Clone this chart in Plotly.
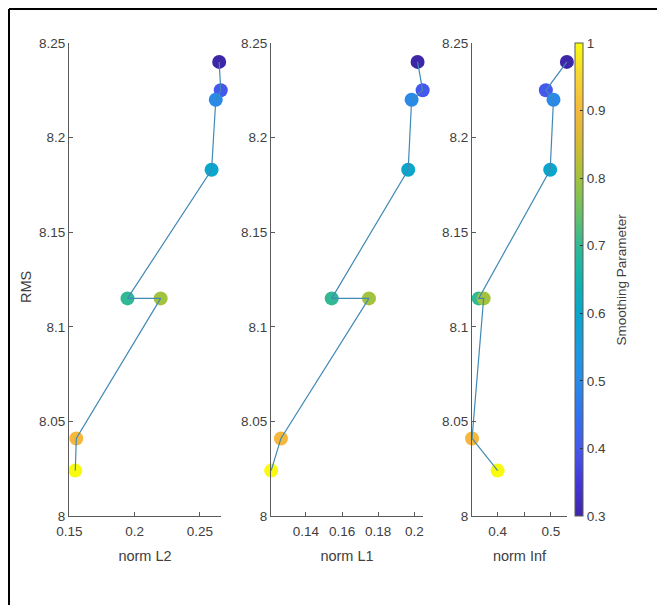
import plotly.graph_objects as go

# ---- data ----
smoothing = [0.3, 0.4, 0.5, 0.6, 0.7, 0.8, 0.9, 1.0]
rms = [8.240, 8.225, 8.220, 8.183, 8.115, 8.115, 8.041, 8.024]
norm_l2 = [0.2647, 0.2659, 0.2621, 0.2589, 0.1945, 0.2199, 0.1553, 0.1545]
norm_l1 = [0.2018, 0.2046, 0.1985, 0.1966, 0.1543, 0.1749, 0.1262, 0.1208]
norm_inf = [0.5301, 0.4906, 0.5049, 0.4987, 0.3644, 0.3737, 0.3519, 0.4000]

x_titles = ["norm L2", "norm L1", "norm Inf"]
y_ticks = [8, 8.05, 8.1, 8.15, 8.2, 8.25]
y_ticktext = ["8", "8.05", "8.1", "8.15", "8.2", "8.25"]
x_ticks = [[0.15, 0.2, 0.25], [0.14, 0.16, 0.18, 0.2], [0.4, 0.45, 0.5]]
x_ticktext = [["0.15", "0.2", "0.25"], ["0.14", "0.16", "0.18", "0.2"], ["0.4", "", "0.5"]]
x_ranges = [[0.1497, 0.2661], [0.1207, 0.2048], [0.3518, 0.5303]]
cbar_ticks = [0.3, 0.4, 0.5, 0.6, 0.7, 0.8, 0.9, 1.0]

# parula-like colour map (MATLAB default)
parula = [
    [0.0, "#3e26a8"], [0.071, "#4337d8"], [0.143, "#4558ee"], [0.214, "#3272ee"],
    [0.286, "#2a8ae8"], [0.357, "#1c9bde"], [0.429, "#0aa6cc"], [0.5, "#12b2b0"],
    [0.571, "#31b995"], [0.643, "#6cc065"], [0.714, "#a3c23e"], [0.786, "#d3bb33"],
    [0.857, "#f5b83c"], [0.929, "#f7d532"], [1.0, "#f9fb0e"],
]

W, H = 657, 605
def px_x(p):
    return p / W
def px_y(p):
    return 1 - p / H

x_doms = [[69, 221], [271, 423], [472, 567]]
y_dom = [px_y(516), px_y(43)]

FONT = "Liberation Sans, Arial, Helvetica, sans-serif"
TXT = "#404040"
AX = "#5a5a5a"
LINE = "#4189b5"

fig = go.Figure()
series = [norm_l2, norm_l1, norm_inf]
for i, xs in enumerate(series):
    xa = "x" if i == 0 else f"x{i+1}"
    ya = "y" if i == 0 else f"y{i+1}"
    marker = dict(size=14, color=smoothing, colorscale=parula, cmin=0.3, cmax=1.0,
                  line=dict(width=0))
    if i == 2:
        marker.update(showscale=True, colorbar=dict(
            x=px_x(575), xanchor="left", y=(y_dom[0] + y_dom[1]) / 2, yanchor="middle",
            len=y_dom[1] - y_dom[0], lenmode="fraction", thickness=8,
            outlinewidth=1, outlinecolor=AX, xpad=0, ypad=0,
            tickvals=cbar_ticks, ticktext=[f"{v:g}" for v in cbar_ticks],
            ticks="inside", ticklen=3, tickcolor="#333",
            tickfont=dict(family=FONT, size=13.5, color=TXT),
        ))
    fig.add_trace(go.Scatter(x=xs, y=rms, mode="markers", marker=marker,
                             xaxis=xa, yaxis=ya, cliponaxis=False, showlegend=False,
                             hoverinfo="skip"))
    fig.add_trace(go.Scatter(x=xs, y=rms, mode="lines", line=dict(color=LINE, width=1.2),
                             xaxis=xa, yaxis=ya, cliponaxis=False, showlegend=False,
                             hoverinfo="skip"))

layout = dict(
    width=W, height=H, margin=dict(l=0, r=0, t=0, b=0, autoexpand=False),
    paper_bgcolor="white", plot_bgcolor="white",
    font=dict(family=FONT, size=13.5, color=TXT),
    showlegend=False,
)
for i in range(3):
    xk = "xaxis" if i == 0 else f"xaxis{i+1}"
    yk = "yaxis" if i == 0 else f"yaxis{i+1}"
    anchor_y = "y" if i == 0 else f"y{i+1}"
    anchor_x = "x" if i == 0 else f"x{i+1}"
    layout[xk] = dict(
        domain=[px_x(x_doms[i][0]), px_x(x_doms[i][1])], anchor=anchor_y,
        range=x_ranges[i], tickvals=x_ticks[i], ticktext=x_ticktext[i],
        showgrid=False, zeroline=False, showline=True, linecolor=AX, linewidth=1,
        ticks="inside", ticklen=4, tickcolor=AX, automargin=False,
        ticklabelstandoff=3,
        tickfont=dict(family=FONT, size=13.5, color=TXT),
        title=dict(text=x_titles[i], font=dict(family=FONT, size=14.5, color=TXT), standoff=12),
    )
    layout[yk] = dict(
        domain=y_dom, anchor=anchor_x, range=[8, 8.25],
        tickvals=y_ticks, ticktext=y_ticktext,
        showgrid=False, zeroline=False, showline=True, linecolor=AX, linewidth=1,
        ticks="inside", ticklen=4, tickcolor=AX, automargin=False,
        tickfont=dict(family=FONT, size=13.5, color=TXT),
    )

fig.update_layout(**layout)

fig.add_annotation(text="RMS", xref="paper", yref="paper",
                   x=px_x(26), y=px_y(287), textangle=-90,
                   showarrow=False, xanchor="center", yanchor="middle",
                   font=dict(family=FONT, size=14.5, color=TXT))
fig.add_annotation(text="Smoothing Parameter", xref="paper", yref="paper",
                   x=px_x(621), y=(y_dom[0] + y_dom[1]) / 2, textangle=-90,
                   showarrow=False, xanchor="center", yanchor="middle",
                   font=dict(family=FONT, size=13.5, color=TXT))

# outer frame (top and left edges)
fig.add_shape(type="line", xref="paper", yref="paper", x0=px_x(9), x1=1, y0=px_y(9), y1=px_y(9),
              line=dict(color="black", width=2))
fig.add_shape(type="line", xref="paper", yref="paper", x0=px_x(9), x1=px_x(9), y0=0, y1=px_y(9),
              line=dict(color="black", width=2))

fig.write_html("out.html", config={"displayModeBar": False},
               post_script="document.body.style.margin='0';document.body.style.overflow='hidden';")
